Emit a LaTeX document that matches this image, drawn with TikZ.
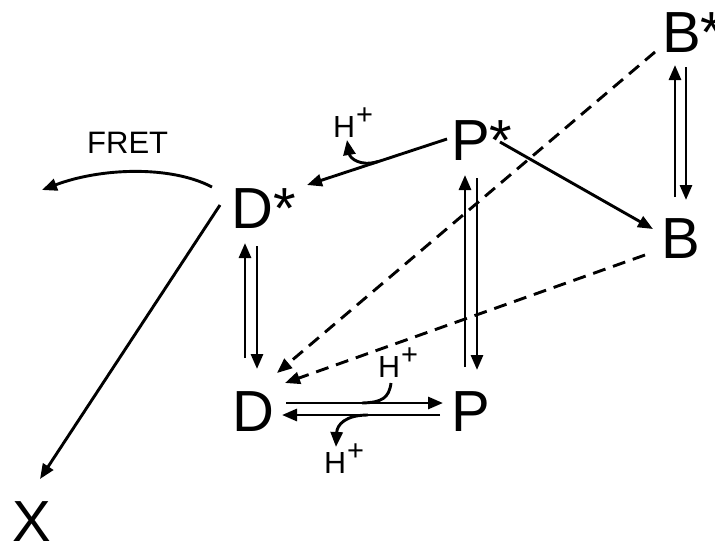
\documentclass[tikz,border=0pt]{standalone}
\usepackage{fontspec}
\setmainfont{Liberation Sans}
\usetikzlibrary{arrows.meta}
\begin{document}
\begin{tikzpicture}[x=1pt,y=-1pt,
  lbl/.style={inner sep=0pt,anchor=base west,font=\fontsize{58}{58}\selectfont},
  hlbl/.style={inner sep=0pt,anchor=base west,font=\fontsize{30.5}{30.5}\selectfont},
  arr/.style={line width=2.9pt,-{Triangle[length=15pt,width=12pt]}},
  plain/.style={line width=2.9pt},
  dsh/.style={arr,dash pattern=on 13pt off 8pt}]
\useasboundingbox (0,0) rectangle (715,549);
\clip (0,0) rectangle (715,549);
% species
\node[lbl] (Dst) at (231,228) {D*};
\node[lbl] (D)   at (232,431) {D};
\node[lbl] (Pst) at (451,160) {P*};
\node[lbl] (P)   at (451,431) {P};
\node[lbl] (B)   at (661,258) {B};
\node[lbl] (Bst) at (662,52)  {B*};
\node[lbl] (X)   at (12,541)  {X};
\node[inner sep=0pt,anchor=base west,font=\fontsize{31}{31}\selectfont] (fret) at (87,153) {FRET};
\newcommand{\hplus}{H\kern1pt\raisebox{13pt}{\fontsize{29}{29}\selectfont +}}
\node[hlbl] (H1) at (333,137) {\hplus};
\node[hlbl] (H2) at (378,377) {\hplus};
\node[hlbl] (H3) at (324,473) {\hplus};
\coordinate (fretend) at (42,190);
% D* <-> D
\draw[arr] ([shift={(13,-73)}]D.base west) -- ([shift={(14,15)}]Dst.base west);
\draw[arr] ([shift={(26,18)}]Dst.base west) -- ([shift={(25,-62)}]D.base west);
% P* <-> P
\draw[arr] ([shift={(14,-64)}]P.base west) -- ([shift={(14,15)}]Pst.base west);
\draw[arr] ([shift={(26,18)}]Pst.base west) -- ([shift={(26,-61)}]P.base west);
% B* <-> B
\draw[arr] ([shift={(14,-61)}]B.base west) -- ([shift={(13,13)}]Bst.base west);
\draw[arr] ([shift={(24,15)}]Bst.base west) -- ([shift={(25,-58)}]B.base west);
% D <-> P
\draw[arr] ([shift={(54,-28)}]D.base west) -- ([shift={(-8,-28)}]P.base west);
\draw[arr] ([shift={(-11,-16)}]P.base west) -- ([shift={(50,-16)}]D.base west);
% H+ uptake on forward D->P
\draw[plain] ([shift={(13,6)}]H2.base west) .. controls (389,398) and (382,402.5) .. (362,403);
% H+ release on backward P->D
\draw[arr] (368,415) .. controls (345,415) and (337,425) .. ([shift={(12,-26)}]H3.base west);
% P* -> D*
\draw[arr] ([shift={(-4,-21)}]Pst.base west) -- ([shift={(76,-43)}]Dst.base west);
\draw[arr] (378,161.5) .. controls (360,167) and (350,158) .. ([shift={(14,3)}]H1.base west);
% P* -> B
\draw[arr] ([shift={(49,-18)}]Pst.base west) -- ([shift={(-8,-29)}]B.base west);
% dashed to D
\draw[dsh] ([shift={(-7,0)}]Bst.base west) -- ([shift={(45,-58)}]D.base west);
\draw[dsh] ([shift={(-16,-3)}]B.base west) -- ([shift={(53,-48)}]D.base west);
% D* -> X
\draw[arr] ([shift={(-11,-23)}]Dst.base west) -- ([shift={(28,-62)}]X.base west);
% FRET
\draw[arr] ([shift={(-19,-41)}]Dst.base west) .. controls (170,165) and (100,168) .. (fretend);
\end{tikzpicture}
\end{document}
